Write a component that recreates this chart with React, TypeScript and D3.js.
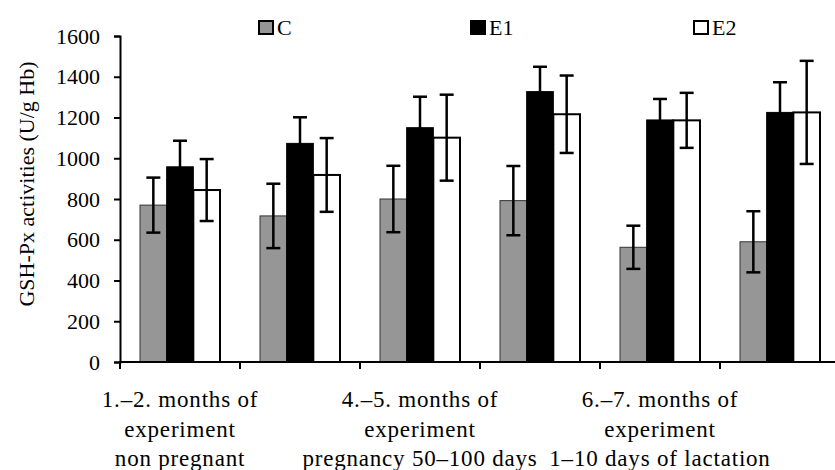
import * as d3 from "d3";
import { useEffect, useRef } from "react";

const groups = ["g1", "g2", "g3", "g4", "g5", "g6"];
const groupLabels: string[][] = [
  ["1.–2. months of", "experiment", "non pregnant"],
  [],
  ["4.–5. months of", "experiment", "pregnancy 50–100 days"],
  [],
  ["6.–7. months of", "experiment", "1–10 days of lactation"],
  [],
];
const seriesNames = ["C", "E1", "E2"];
const cValues = [770, 717, 800, 792, 563, 590];
const cErrors = [135, 158, 163, 170, 106, 150];
const e1Values = [958, 1073, 1150, 1327, 1188, 1225];
const e1Errors = [128, 128, 152, 122, 103, 148];
const e2Values = [844, 918, 1101, 1216, 1186, 1225];
const e2Errors = [152, 181, 211, 190, 135, 253];
const yTicks = [0, 200, 400, 600, 800, 1000, 1200, 1400, 1600];

const fills = ["#969696", "#000000", "#ffffff"];
const strokes = ["#333333", "#000000", "#000000"];
const legendX = [258, 470, 693];

export default function App() {
  const svgRef = useRef<SVGSVGElement>(null);

  useEffect(() => {
    if (!svgRef.current) return;
    const svg = d3.select(svgRef.current);
    svg.selectAll("*").remove();

    const font = "'Liberation Serif', 'Times New Roman', serif";
    const values = [cValues, e1Values, e2Values];
    const errors = [cErrors, e1Errors, e2Errors];

    const x = d3
      .scaleBand()
      .domain(groups)
      .range([120, 840])
      .paddingInner(1 / 3)
      .paddingOuter(1 / 6);
    const xs = d3
      .scaleBand()
      .domain(seriesNames)
      .range([0, x.bandwidth()]);
    const y = d3.scaleLinear().domain([0, 1600]).range([362, 36]);

    // bars
    seriesNames.forEach((s, si) => {
      svg
        .append("g")
        .selectAll("rect")
        .data(groups)
        .enter()
        .append("rect")
        .attr("x", (g) => (x(g) || 0) + (xs(s) || 0))
        .attr("y", (g, i) => y(values[si][i]))
        .attr("width", xs.bandwidth())
        .attr("height", (g, i) => y(0) - y(values[si][i]))
        .attr("fill", fills[si])
        .attr("stroke", strokes[si])
        .attr("stroke-width", si === 2 ? 2 : 1);
    });

    // error bars
    seriesNames.forEach((s, si) => {
      const eg = svg.append("g").attr("stroke", "#000").attr("stroke-width", 2.5);
      groups.forEach((g, i) => {
        const cx = (x(g) || 0) + (xs(s) || 0) + xs.bandwidth() / 2;
        const hi = y(values[si][i] + errors[si][i]);
        const lo = y(values[si][i] - errors[si][i]);
        eg.append("line").attr("x1", cx).attr("x2", cx).attr("y1", hi).attr("y2", lo);
        eg.append("line").attr("x1", cx - 7).attr("x2", cx + 7).attr("y1", hi).attr("y2", hi);
        eg.append("line").attr("x1", cx - 7).attr("x2", cx + 7).attr("y1", lo).attr("y2", lo);
      });
    });

    // y axis
    const yAxis = svg
      .append("g")
      .attr("transform", "translate(120,0)")
      .call(
        d3
          .axisLeft(y)
          .tickValues(yTicks)
          .tickFormat(d3.format("d"))
          .tickSize(6)
          .tickPadding(14),
      );
    yAxis.select(".domain").attr("stroke-width", 2);
    yAxis.selectAll(".tick line").attr("stroke-width", 2);
    yAxis
      .selectAll(".tick text")
      .attr("font-family", font)
      .attr("font-size", 22)
      .attr("fill", "#000");

    // x axis line + ticks on band boundaries
    const gap = (x.step() - x.bandwidth()) / 2;
    const xa = svg.append("g").attr("stroke", "#000").attr("stroke-width", 2);
    xa.append("line").attr("x1", 119).attr("x2", 840).attr("y1", y(0)).attr("y2", y(0));
    groups.forEach((g) => {
      const tx = (x(g) || 0) - gap;
      xa.append("line").attr("x1", tx).attr("x2", tx).attr("y1", y(0)).attr("y2", y(0) + 7);
    });

    // category labels
    groups.forEach((g, i) => {
      const t = svg
        .append("text")
        .attr("font-family", font)
        .attr("font-size", 23)
        .attr("letter-spacing", 0.8)
        .attr("text-anchor", "middle")
        .attr("fill", "#000");
      groupLabels[i].forEach((line, li) => {
        t.append("tspan")
          .attr("x", (x(g) || 0) + x.bandwidth() / 2)
          .attr("y", 407 + li * 29.5)
          .text(line);
      });
    });

    // y title
    svg
      .append("text")
      .attr("transform", "translate(34,184) rotate(-90)")
      .attr("text-anchor", "middle")
      .attr("font-family", font)
      .attr("font-size", 22)
      .attr("fill", "#000")
      .text("GSH-Px activities (U/g Hb)");

    // legend
    seriesNames.forEach((s, si) => {
      const lg = svg.append("g").attr("transform", `translate(${legendX[si]},20)`);
      lg.append("rect")
        .attr("x", 1)
        .attr("y", 1)
        .attr("width", 14)
        .attr("height", 13)
        .attr("fill", fills[si])
        .attr("stroke", "#000")
        .attr("stroke-width", 2);
      lg.append("text")
        .attr("x", 19)
        .attr("y", 14.5)
        .attr("font-family", font)
        .attr("font-size", 22)
        .attr("fill", "#000")
        .text(s);
    });
  }, []);

  return (
    <svg
      ref={svgRef}
      width={835}
      height={470}
      style={{ position: "absolute", left: 0, top: 0, background: "#fff" }}
    />
  );
}
